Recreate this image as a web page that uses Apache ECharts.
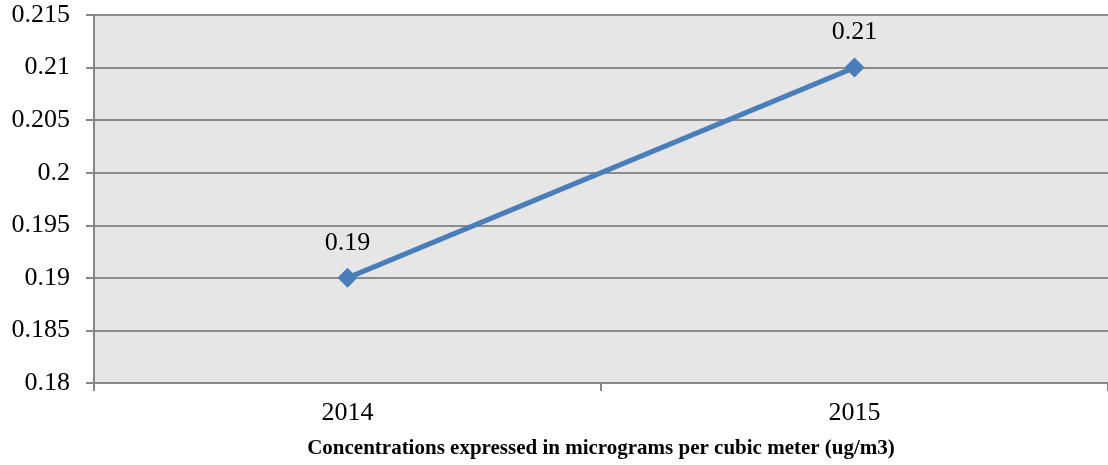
<!DOCTYPE html>
<html>
<head>
<meta charset="utf-8">
<script src="https://cdn.jsdelivr.net/npm/echarts@6/dist/echarts.min.js"></script>
<style>
  html, body { margin: 0; padding: 0; background: #ffffff; }
  #chart { width: 1108px; height: 465px; }
</style>
</head>
<body>
<div id="chart"></div>
<script>
// Annual mean concentration (ug/m3)
const years = ['2014', '2015'];
const concentrations = [0.19, 0.21];
const yMin = 0.18;
const yMax = 0.215;
const yStep = 0.005;
const axisTitle = 'Concentrations expressed in micrograms per cubic meter (ug/m3)';

const serif = '"Liberation Serif", "Times New Roman", serif';
const chart = echarts.init(document.getElementById('chart'));

chart.setOption({
  animation: false,
  grid: {
    left: 94,
    right: -4,
    top: 15,
    bottom: 82,
    show: true,
    backgroundColor: '#e6e6e6',
    borderWidth: 0
  },
  xAxis: {
    type: 'category',
    data: years,
    boundaryGap: true,
    name: axisTitle,
    nameLocation: 'middle',
    nameGap: 55,
    nameTextStyle: {
      fontFamily: serif,
      fontSize: 21,
      fontWeight: 'bold',
      color: '#000000'
    },
    axisLine: { lineStyle: { color: '#868686', width: 2 } },
    axisTick: { show: true, length: 8, lineStyle: { color: '#868686', width: 2 } },
    axisLabel: {
      fontFamily: serif,
      fontSize: 26,
      color: '#000000',
      margin: 17
    },
    splitLine: { show: false }
  },
  yAxis: {
    type: 'value',
    min: yMin,
    max: yMax,
    interval: yStep,
    axisLine: { show: true, lineStyle: { color: '#868686', width: 2 } },
    axisTick: { show: true, length: 8, lineStyle: { color: '#868686', width: 2 } },
    axisLabel: {
      fontFamily: serif,
      fontSize: 26,
      color: '#000000',
      margin: 24,
      formatter: v => String(parseFloat(v.toFixed(3)))
    },
    splitLine: { show: true, lineStyle: { color: '#8c8c8c', width: 2 } }
  },
  series: [{
    type: 'line',
    data: concentrations,
    symbol: 'diamond',
    symbolSize: 20,
    lineStyle: { color: '#4a7ebb', width: 5 },
    itemStyle: { color: '#4a7ebb' },
    label: {
      show: true,
      position: 'top',
      distance: 12,
      fontFamily: serif,
      fontSize: 26,
      color: '#000000'
    }
  }]
});
</script>
</body>
</html>
